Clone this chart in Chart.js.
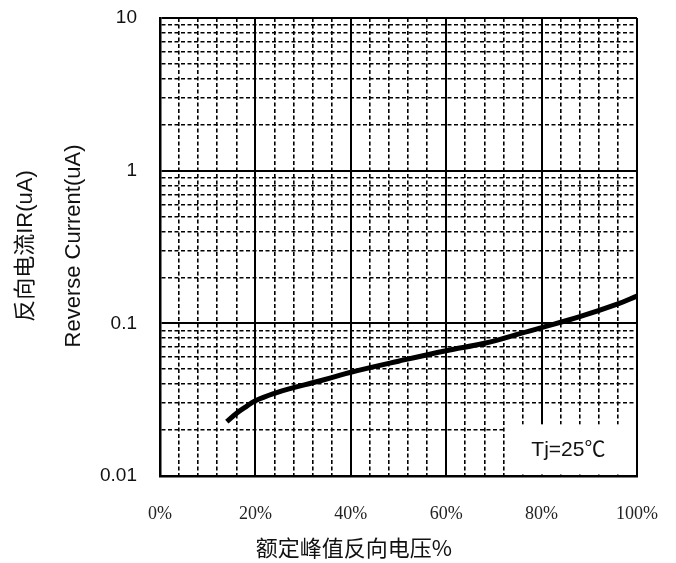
<!DOCTYPE html>
<html>
<head>
<meta charset="utf-8">
<script src="https://cdn.jsdelivr.net/npm/chart.js@4.4.1/dist/chart.umd.min.js"></script>
<style>
  html, body { margin: 0; padding: 0; background: #fff; }
</style>
</head>
<body>
<canvas id="myChart" width="676" height="563"></canvas>
<script>
// rated peak reverse voltage in % (x)
const voltagePct = [14, 16, 18, 20, 24, 28, 32, 36, 40, 50, 60, 68, 76, 80, 88, 96, 100];
// reverse current IR in uA at Tj=25C (y)
const reverseCurrent = [0.0227, 0.0257, 0.0284, 0.0311, 0.0348, 0.0379, 0.0408, 0.0441, 0.0478, 0.0565, 0.0662, 0.0740, 0.0865, 0.0936, 0.1105, 0.1340, 0.1510];

const yDecades = [0.01, 0.1, 1, 10];
const yTickLabels = ['0.01', '0.1', '1', '10'];
const xTickLabels = ['0%', '20%', '40%', '60%', '80%', '100%'];
const yTitleLines = ['反向电流IR(uA)', 'Reverse Current(uA)'];
const xTitle = '额定峰值反向电压%';
const noteText = 'Tj=25℃';

const isMajorX = (v) => v % 20 === 0;
const isMajorY = (v) => yDecades.indexOf(v) >= 0;

// white label box + axis titles
const decorations = {
  id: 'decorations',
  beforeDatasetsDraw(chart) {
    const ctx = chart.ctx;
    const xs = chart.scales.x, ys = chart.scales.y;
    const area = chart.chartArea;
    const left = xs.getPixelForValue(72.5);
    const top = ys.getPixelForValue(0.0218);
    ctx.save();
    ctx.fillStyle = '#fff';
    ctx.fillRect(left, top, area.right - 1.5 - left, area.bottom - 1.5 - top);
    ctx.fillStyle = '#111';
    ctx.font = '21px "Liberation Sans", "Noto Sans CJK SC"';
    ctx.textAlign = 'center';
    ctx.textBaseline = 'middle';
    ctx.fillText(noteText, (left + area.right) / 2 - 3, (top + area.bottom) / 2);
    ctx.restore();
  },
  afterDraw(chart) {
    const ctx = chart.ctx;
    ctx.save();
    ctx.fillStyle = '#111';
    ctx.textAlign = 'center';
    ctx.textBaseline = 'middle';
    ctx.font = '22px "Liberation Sans", "Noto Sans CJK SC"';
    [26, 74].forEach((px, i) => {
      ctx.save();
      ctx.translate(px, 246);
      ctx.rotate(-Math.PI / 2);
      ctx.fillText(yTitleLines[i], 0, 0);
      ctx.restore();
    });
    ctx.font = '22px "Noto Sans CJK SC"';
    ctx.fillText(xTitle, 354, 548);
    ctx.restore();
  }
};

const ctx = document.getElementById('myChart').getContext('2d');
const myChart = new Chart(ctx, {
  type: 'line',
  data: {
    datasets: [{
      data: voltagePct.map((v, i) => ({ x: v, y: reverseCurrent[i] })),
      borderColor: '#000',
      borderWidth: 5,
      pointRadius: 0,
      fill: false,
      tension: 0.4
    }]
  },
  options: {
    responsive: false,
    devicePixelRatio: 1,
    animation: false,
    layout: { padding: { top: 18, right: 39, left: 0, bottom: 0 } },
    plugins: {
      legend: { display: false },
      tooltip: { enabled: false }
    },
    scales: {
      x: {
        type: 'linear',
        min: 0,
        max: 100,
        afterFit: (scale) => {
          scale.height = 87;
          scale.paddingLeft = 0;
          scale.paddingRight = 0;
        },
        ticks: {
          stepSize: 4,
          autoSkip: false,
          maxRotation: 0,
          padding: 27,
          color: '#222',
          font: { family: '"Liberation Serif"', size: 18 },
          callback: (v) => isMajorX(v) ? xTickLabels[v / 20] : ''
        },
        grid: {
          drawTicks: false,
          color: '#000',
          lineWidth: (c) => (c.tick && isMajorX(c.tick.value)) ? 2 : 1.6
        },
        border: {
          color: '#000',
          width: 2.5,
          dash: (c) => (c.tick && !isMajorX(c.tick.value)) ? [4, 2.5] : []
        }
      },
      y: {
        type: 'logarithmic',
        min: 0.01,
        max: 10,
        afterFit: (scale) => {
          scale.width = 160;
          scale.paddingTop = 0;
          scale.paddingBottom = 0;
        },
        afterBuildTicks: (scale) => {
          const ticks = [];
          yDecades.forEach((d, i) => {
            ticks.push({ value: d });
            if (i < yDecades.length - 1) {
              for (let m = 2; m <= 9; m++) ticks.push({ value: +(d * m).toPrecision(3) });
            }
          });
          scale.ticks = ticks;
        },
        ticks: {
          autoSkip: false,
          padding: 23,
          color: '#111',
          font: { family: '"Liberation Sans"', size: 19 },
          callback: (v) => {
            const i = yDecades.indexOf(v);
            return i >= 0 ? yTickLabels[i] : '';
          }
        },
        grid: {
          drawTicks: false,
          color: '#000',
          lineWidth: (c) => (c.tick && isMajorY(c.tick.value)) ? 2 : 1.6
        },
        border: {
          color: '#000',
          width: 2.5,
          dash: (c) => (c.tick && !isMajorY(c.tick.value)) ? [4, 2.5] : []
        }
      }
    }
  },
  plugins: [decorations]
});
</script>
</body>
</html>
